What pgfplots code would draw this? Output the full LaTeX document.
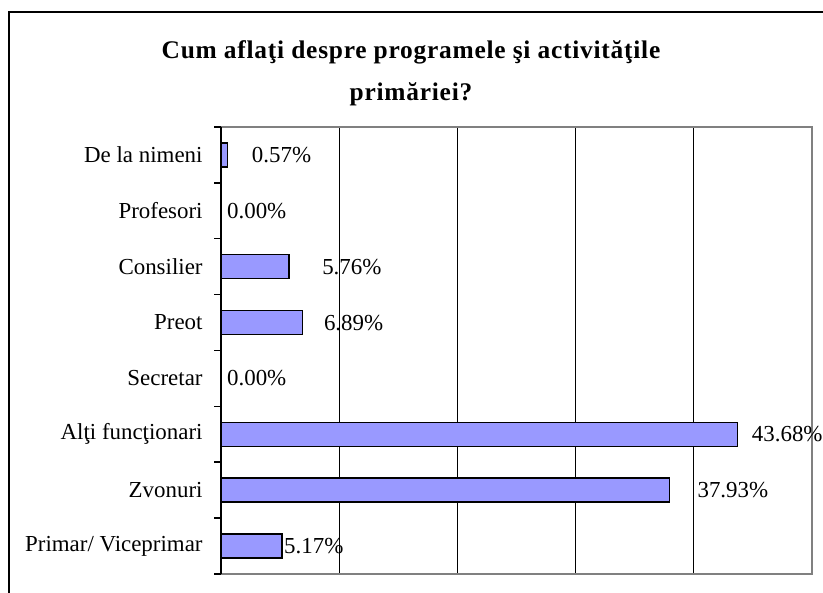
\documentclass[border=0pt]{standalone}
\usepackage{fontspec}
\setmainfont{Liberation Serif}
\newfontfamily\widefont{Liberation Serif}
\newfontfamily\titlefont[LetterSpace=3]{Liberation Serif}
\usepackage{pgfplots}
\pgfplotsset{compat=1.18}
\definecolor{barblue}{HTML}{9999FF}
\definecolor{bordergray}{HTML}{808080}
\begin{document}
\begin{tikzpicture}[x=1bp,y=1bp]
\useasboundingbox (0,0) rectangle (823,593);
\draw[black, line width=2bp] (9,-20) -- (9,581) -- (850,581);
\node[font=\titlefont\fontsize{25.5}{42}\selectfont\bfseries, align=center, anchor=north] at (411,556)
  {Cum aflaţi despre programele şi activităţile\\primăriei?};
\begin{axis}[
  at={(221bp,19bp)}, anchor=south west,
  scale only axis, width=591bp, height=447bp,
  xmin=0, xmax=50, ymin=-0.5, ymax=7.5,
  axis line style={draw=none},
  xtick={10,20,30,40}, xticklabels={}, xtick style={draw=none},
  xmajorgrids, major grid style={black, line width=1.2bp},
  ytick={0,1,2,3,4,5,6,7},
  yticklabels={Primar/ Viceprimar, Zvonuri, Alţi funcţionari, Secretar, Preot, Consilier, Profesori, De la nimeni},
  minor ytick={-0.5,0.5,1.5,2.5,3.5,4.5,5.5,6.5,7.5},
  ytick pos=left, tick align=outside,
  major y tick style={draw=none},
  minor y tick style={black, line width=1.5bp},
  minor tick length=7bp,
  yticklabel style={font=\widefont\fontsize{23}{27}\selectfont, anchor=east, inner sep=0pt, xshift=-14bp},
  clip=false,
]
\addplot[xbar, bar shift=0pt, bar width=0.43, fill=barblue, draw=black, line width=1.5bp]
  coordinates {(5.17,0) (37.93,1) (43.68,2) (0,3) (6.89,4) (5.76,5) (0,6) (0.57,7)};
\addplot[draw=none, mark=none, nodes near coords={\pgfplotspointmeta\%}, point meta=explicit symbolic,
  nodes near coords style={anchor=west, inner sep=0pt, font=\widefont\fontsize{23}{27}\selectfont}]
  table[meta=label] {
lx y label
5.33 0 5.17
40.3 1 37.93
44.9 2 43.68
0.5 3 0.00
8.7 4 6.89
8.55 5 5.76
0.5 6 0.00
2.6 7 0.57
};
\draw[bordergray, line width=2bp] (rel axis cs:0,1) -- (rel axis cs:1,1) -- (rel axis cs:1,0) -- (rel axis cs:0,0);
\draw[black, line width=1.5bp] (rel axis cs:0,0) -- (rel axis cs:0,1);
\end{axis}
\end{tikzpicture}
\end{document}
